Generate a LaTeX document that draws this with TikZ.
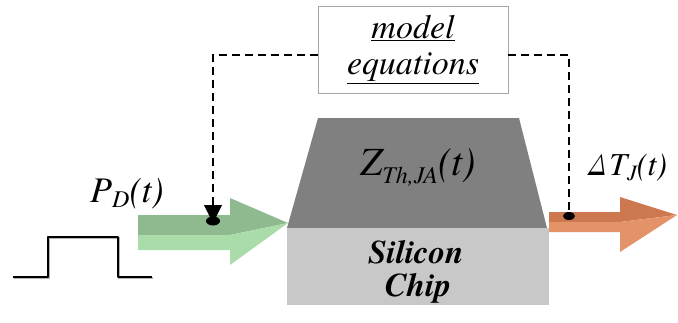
\documentclass[tikz,border=0pt]{standalone}
\usepackage{fontspec}
\setmainfont{texgyretermes}[Extension=.otf, UprightFont=*-regular, ItalicFont=*-italic, BoldFont=*-bold, BoldItalicFont=*-bolditalic]
\newfontfamily\tms{texgyretermes}[Extension=.otf, UprightFont=*-regular, ItalicFont=*-italic, BoldFont=*-bold, BoldItalicFont=*-bolditalic]
\usetikzlibrary{calc}
\definecolor{chipdark}{RGB}{128,128,128}
\definecolor{chiplight}{RGB}{200,200,200}
\definecolor{gdark}{RGB}{143,185,143}
\definecolor{glight}{RGB}{170,220,170}
\definecolor{odark}{RGB}{205,120,78}
\definecolor{olight}{RGB}{228,146,104}
\newcommand\mystuff{}
\newcommand\mysubs[2]{\raisebox{-#2}{\fontsize{#1}{#1}\selectfont\tms\itshape\mystuff}}
\newcommand\lsub[3]{\renewcommand\mystuff{#3}\mysubs{#1}{#2}}
\tikzset{
  lbl/.style={font=\tms\itshape, inner sep=0pt},
  fb/.style={dashed, dash pattern=on 8pt off 5pt, line width=1.6pt},
  modelbox/.style={draw=gray!70, fill=white, line width=0.8pt, minimum width=190pt, minimum height=87pt, align=center, font=\fontsize{34}{36}\selectfont\tms\itshape, inner sep=0pt}
}
\begin{document}
\begin{tikzpicture}[x=1pt,y=-1pt]
\useasboundingbox[fill=white] (0,0) rectangle (678,322);
% chip
\fill[chipdark] (318,118) -- (519,118) -- (547,228) -- (287,228) -- cycle;
\fill[chiplight] (287,228) rectangle (549,305);
% green arrow
\fill[gdark] (138,215) -- (230,215) -- (230,198) -- (288,223) -- (230,235) -- (138,235) -- cycle;
\fill[glight] (138,235) -- (230,235) -- (288,223) -- (230,265) -- (230,250) -- (138,250) -- cycle;
% orange arrow
\fill[odark] (549,212) -- (620,212) -- (620,197) -- (677,215) -- (620,222) -- (549,222) -- cycle;
\fill[olight] (549,222) -- (620,222) -- (677,215) -- (620,252) -- (620,232) -- (549,232) -- cycle;
% pulse
\draw[gray!60, line width=2.5pt] (14,278) -- (49,278) -- (49,238) -- (119,238) -- (119,278) -- (153,278);
\draw[black, line width=2.3pt, line join=round] (13,277) -- (48,277) -- (48,237) -- (118,237) -- (118,277) -- (152,277);
% labels
\node[lbl, font=\fontsize{36}{38}\selectfont\tms\itshape, anchor=base west] (pd) at (90,202) {P\lsub{24}{5pt}{D}(t)};
\node[lbl, font=\fontsize{40}{42}\selectfont\tms\itshape, anchor=base west] (zth) at (360,175) {Z\lsub{24}{8pt}{Th,JA}(t)};
\node[lbl, font=\fontsize{32}{33}\selectfont\tms\itshape, anchor=base west] (dtj) at (587,175) {Δ\kern1pt T\lsub{22}{5pt}{J}(t)};
\node[lbl, font=\fontsize{33}{33}\selectfont\tms\bfseries\itshape, align=center] (chip) at (416,272) {Silicon\\\kern4pt Chip};
% model box
\node[modelbox] (me) at (413,49.5) {\underline{model}\\\underline{equations}};
% feedback connectors
\coordinate (lc) at (213,55);
\coordinate (lend) at (213,205);
\coordinate (rc) at (569,55);
\coordinate (rend) at (569,216);
\draw[fb] (me.west |- lc) -- (lc) -- (lend);
\draw[fb] (me.east |- rc) -- (rc) -- (rend);
\fill ($(lend)+(-9,0)$) -- ($(lend)+(9,0)$) -- ($(lend)+(3,12)$) -- ($(lend)+(-3,12)$) -- cycle;
\fill ($(lend)+(0,16)$) ellipse [x radius=7pt, y radius=4.5pt];
\fill (rend) ellipse [x radius=6pt, y radius=4pt];
\end{tikzpicture}
\end{document}
